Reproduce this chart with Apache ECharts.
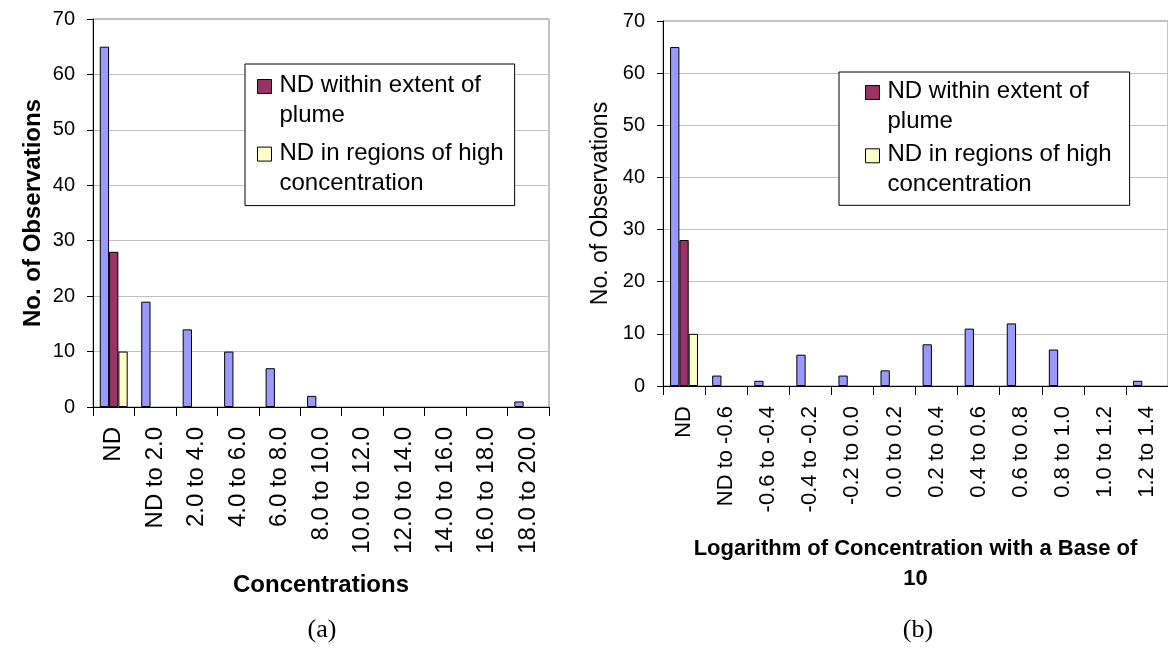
<!DOCTYPE html>
<html><head><meta charset="utf-8">
<script src="https://cdn.jsdelivr.net/npm/echarts@6/dist/echarts.min.js"></script>
<style>html,body{margin:0;padding:0;background:#fff}#c{width:1168px;height:648px}</style>
</head><body><div id="c"></div>
<script>
// ---- data ----
const catsA = ['ND','ND to 2.0','2.0 to 4.0','4.0 to 6.0','6.0 to 8.0','8.0 to 10.0','10.0 to 12.0','12.0 to 14.0','14.0 to 16.0','16.0 to 18.0','18.0 to 20.0'];
const allA   = [65, 19, 14, 10, 7, 2, 0, 0, 0, 0, 1];
const plumeA = [28, null, null, null, null, null, null, null, null, null, null];
const highA  = [10, null, null, null, null, null, null, null, null, null, null];

const catsB = ['ND','ND to -0.6','-0.6 to -0.4','-0.4 to -0.2','-0.2 to 0.0','0.0 to 0.2','0.2 to 0.4','0.4 to 0.6','0.6 to 0.8','0.8 to 1.0','1.0 to 1.2','1.2 to 1.4'];
const allB   = [65, 2, 1, 6, 2, 3, 8, 11, 12, 7, 0, 1];
const plumeB = [28, null, null, null, null, null, null, null, null, null, null, null];
const highB  = [10, null, null, null, null, null, null, null, null, null, null, null];

const seriesNames = ['All observations', 'ND within extent of plume', 'ND in regions of high concentration'];
const legendLabels = {
  'ND within extent of plume': 'ND within extent of\nplume',
  'ND in regions of high concentration': 'ND in regions of high\nconcentration'
};
const yMin = 0, yMax = 70, yStep = 10;
const xTitleA = 'Concentrations';
const xTitleB = 'Logarithm of Concentration with a Base of\n10';
const yTitle = 'No. of Observations';
const captions = ['(a)', '(b)'];

// ---- style ----
const SANS = '"Liberation Sans", Arial, sans-serif';
const colors = ['#9999ff', '#993366', '#ffffcc'];

function xAxis(idx, cats, name, gap, labelSize, nameSize) {
  return {
    type: 'category', gridIndex: idx, data: cats,
    axisLine: { show: true, lineStyle: { color: '#000', width: 1 } },
    axisTick: { show: true, length: 9, interval: 0, lineStyle: { color: '#000' } },
    axisLabel: { interval: 0, rotate: 90, margin: 20, fontSize: labelSize, color: '#000', fontFamily: SANS },
    splitLine: { show: false },
    name: name, nameLocation: 'middle', nameGap: gap,
    nameTextStyle: { fontSize: nameSize, fontWeight: 'bold', color: '#000', fontFamily: SANS, lineHeight: 30 }
  };
}
function yAxis(idx, gap, labelSize, nameSize, weight) {
  return {
    type: 'value', gridIndex: idx, min: yMin, max: yMax, interval: yStep,
    axisLine: { show: true, lineStyle: { color: '#000', width: 1 } },
    axisTick: { show: true, length: 6, lineStyle: { color: '#000' } },
    axisLabel: { margin: 18, fontSize: labelSize, color: '#000', fontFamily: SANS },
    splitLine: { show: true, lineStyle: { color: '#c0c0c0', width: 1 } },
    name: yTitle, nameLocation: 'middle', nameGap: gap,
    nameTextStyle: { fontSize: nameSize, fontWeight: weight, color: '#000', fontFamily: SANS }
  };
}
function bars(idx, arrs) {
  return arrs.map((d, i) => ({
    type: 'bar', name: seriesNames[i], xAxisIndex: idx, yAxisIndex: idx,
    data: d.map(v => v === 0 ? { value: 0, itemStyle: { borderWidth: 0 } } : v),
    barWidth: 9.3, barGap: '0%',
    itemStyle: { color: colors[i], borderColor: '#000', borderWidth: 1 },
    emphasis: { disabled: true }
  }));
}
function legend(left, top, padding, gap) {
  return {
    data: [seriesNames[1], seriesNames[2]],
    orient: 'vertical', left: left, top: top, padding: padding, itemGap: gap,
    itemWidth: 17, itemHeight: 60,
    icon: 'path://M0,0M17,60M0,9H14V23H0Z',
    itemStyle: { borderColor: '#000', borderWidth: 1 },
    selectedMode: false,
    borderColor: '#000', borderWidth: 1, backgroundColor: '#fff',
    formatter: n => legendLabels[n],
    textStyle: { fontSize: 24, lineHeight: 30, color: '#000', fontFamily: SANS }
  };
}

const chart = echarts.init(document.getElementById('c'));
chart.setOption({
  animation: false,
  backgroundColor: '#fff',
  grid: [
    { left: 93, top: 19, width: 456, height: 388, show: true, borderColor: '#888', borderWidth: 1, containLabel: false },
    { left: 663, top: 21, right: -4, height: 365, show: true, borderColor: '#888', borderWidth: 1, containLabel: false }
  ],
  xAxis: [xAxis(0, catsA, xTitleA, 163, 24, 24), xAxis(1, catsB, xTitleB, 148, 22, 22)],
  yAxis: [yAxis(0, 48, 20, 24, 'bold'), yAxis(1, 51, 20, 23, 'normal')],
  legend: [legend(245, 64, [6, 11, 7, 12], 6.6), legend(839, 72, [4, 18, 5, 26], 2.3)],
  series: [...bars(0, [allA, plumeA, highA]), ...bars(1, [allB, plumeB, highB])],
  graphic: [
    { type: 'text', x: 322, y: 630, style: { text: captions[0], align: 'center', verticalAlign: 'middle', fontSize: 26, fontFamily: '"Liberation Serif", "Times New Roman", serif', fill: '#000' } },
    { type: 'text', x: 918, y: 630, style: { text: captions[1], align: 'center', verticalAlign: 'middle', fontSize: 26, fontFamily: '"Liberation Serif", "Times New Roman", serif', fill: '#000' } }
  ]
});
</script></body></html>
